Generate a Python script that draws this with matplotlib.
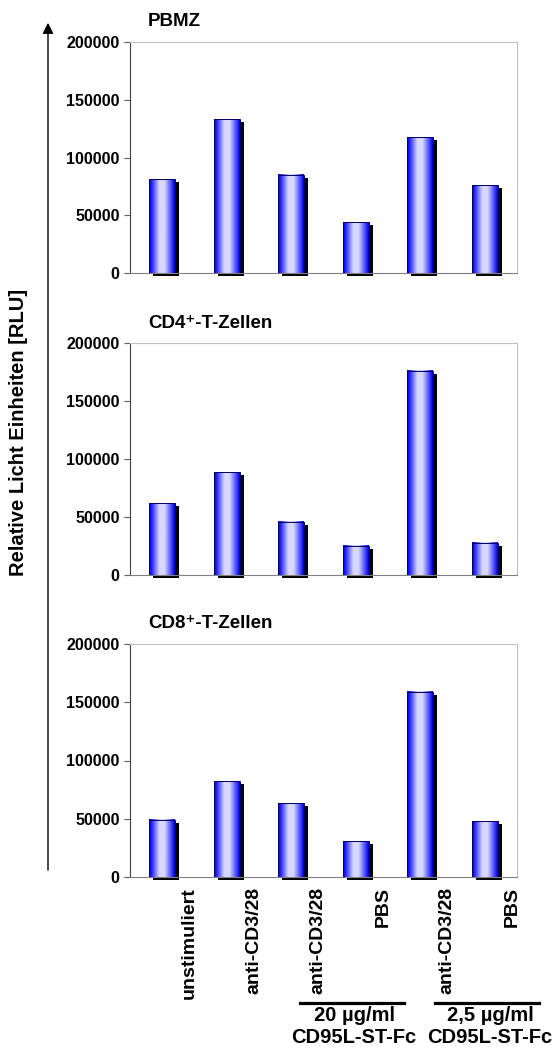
import numpy as np
import matplotlib
matplotlib.use("Agg")
import matplotlib.pyplot as plt
from matplotlib.colors import LinearSegmentedColormap
from matplotlib.lines import Line2D
import matplotlib.transforms as mtransforms

plt.rcParams['font.family'] = ['Liberation Sans', 'DejaVu Sans']
plt.rcParams['font.weight'] = 'bold'

categories = ["unstimuliert", "anti-CD3/28", "anti-CD3/28", "PBS", "anti-CD3/28", "PBS"]
titles = ["PBMZ", "CD4\u207a-T-Zellen", "CD8\u207a-T-Zellen"]
pbmz = [81000, 133000, 85000, 44000, 117500, 76000]
cd4 = [62000, 88500, 45700, 25300, 176000, 27800]
cd8 = [49200, 82000, 63300, 30500, 159200, 47700]
groups = ["20 \u00b5g/ml\nCD95L-ST-Fc", "2,5 \u00b5g/ml\nCD95L-ST-Fc"]
yticks = [0, 50000, 100000, 150000, 200000]

W, H = 558, 1053
fig = plt.figure(figsize=(W / 100, H / 100), dpi=100)

def fx(x):
    return x / W

def fy(y):
    return 1 - y / H

grad = LinearSegmentedColormap.from_list(
    "bar", [(0.0, "#0000d8"), (0.08, "#1818ff"), (0.4, "#d8d8ff"),
            (0.6, "#d8d8ff"), (0.92, "#2828ff"), (1.0, "#0000c0")])
prof = np.linspace(0, 1, 64).reshape(1, -1)

# panel boxes in pixels: top, bottom
boxes = [(42, 273), (343, 575), (644, 877)]
data = [pbmz, cd4, cd8]
bw = 0.4
x = np.arange(len(categories))

axes = []
for (top, bot), vals, title in zip(boxes, data, titles):
    ax = fig.add_axes([fx(130), fy(bot), fx(517) - fx(130), (bot - top) / H])
    shadow = mtransforms.offset_copy(ax.transData, fig=fig, x=4, y=-3, units='dots')
    for xi, v in zip(x, vals):
        ax.bar(xi, v, width=bw, color='black', transform=shadow, zorder=1, clip_on=False)
        ax.imshow(prof, cmap=grad, aspect='auto', extent=[xi - bw / 2, xi + bw / 2, 0, v],
                  zorder=2, interpolation='bilinear')
        ax.bar(xi, v, width=bw, facecolor='none', edgecolor='#000060', linewidth=0.7, zorder=3)
    ax.set_xlim(-0.5, len(categories) - 0.5)
    ax.set_ylim(0, 200000)
    ax.set_yticks(yticks)
    ax.set_yticklabels([str(t) for t in yticks], fontsize=11.5, fontweight='bold')
    ax.set_xticks([])
    ax.tick_params(axis='y', length=4, color='#606060', pad=3.5)
    ax.spines['left'].set_color('#404040')
    ax.spines['bottom'].set_color('#808080')
    ax.spines['top'].set_color('#c0c0c0')
    ax.spines['right'].set_color('#c0c0c0')
    fig.text(fx(148), fy(top - 20), title, fontsize=13.5, fontweight='bold', ha='left', va='center')
    axes.append(ax)

ax = axes[-1]
trans = mtransforms.blended_transform_factory(ax.transData, ax.transAxes)
for xi, lab in zip(x, categories):
    ax.text(xi + 0.42, -0.043, lab, rotation=90, ha='center', va='top',
            fontsize=14, fontweight='bold', transform=trans)

# group brackets
for (x0, x1), lab, cx in zip([(300, 404), (435, 539)], groups, [354, 490]):
    fig.add_artist(Line2D([fx(x0), fx(x1)], [fy(1003), fy(1003)], color='black', lw=2.3))
    fig.text(fx(cx), fy(1006), lab, ha='center', va='top', fontsize=14.5,
             fontweight='bold', linespacing=1.2)

# big y arrow
fig.add_artist(matplotlib.patches.FancyArrowPatch(
    (fx(48), fy(873)), (fx(48), fy(20)), transform=fig.transFigure,
    arrowstyle='-|>', mutation_scale=16, color='black', lw=1))
fig.text(fx(19), fy(432), "Relative Licht Einheiten [RLU]", rotation=90,
         ha='center', va='center', fontsize=14.5, fontweight='bold')

fig.savefig("out.png", dpi=100)
